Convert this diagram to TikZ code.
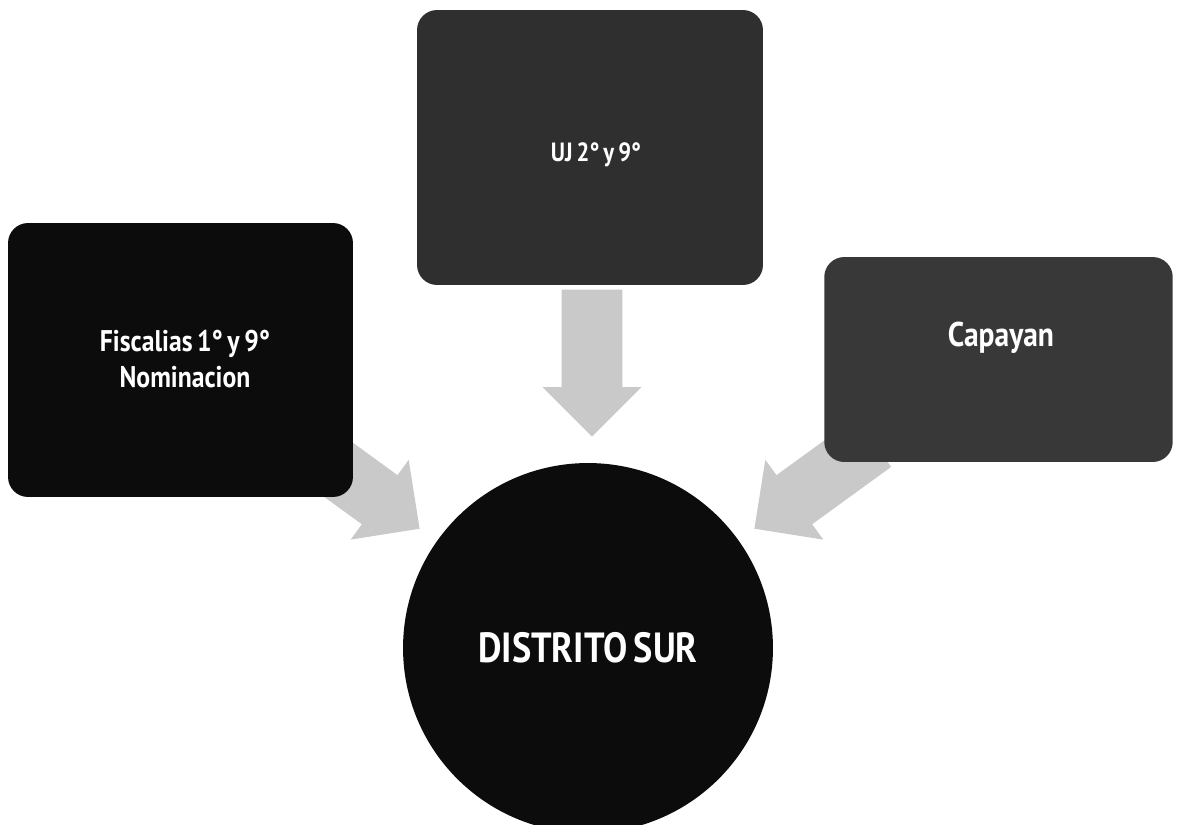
\documentclass[tikz,border=0pt]{standalone}
\usepackage{fontspec}
\newfontfamily\dinfont[FakeStretch=0.86, WordSpace=0.7]{PT Sans}
\usetikzlibrary{shapes.arrows}
\definecolor{arrowgray}{HTML}{C9C9C9}
\definecolor{boxdark}{HTML}{0C0C0C}
\definecolor{boxmid}{HTML}{2F2F2F}
\definecolor{boxlight}{HTML}{383838}

\begin{document}
\begin{tikzpicture}[x=0.02cm, y=-0.02cm,
  box/.style={rectangle, rounded corners=0.4cm, inner sep=0pt, text=white, align=center, font=\dinfont\bfseries},
  flow/.style={single arrow, fill=arrowgray, draw=none, inner xsep=0pt, inner ysep=0.6cm,
    single arrow head extend=0.38cm, minimum height=2.94cm, anchor=tip}]
% Fix the page size
\useasboundingbox (0,0) rectangle (1178,825);

% Draw the arrows first, the boxes cover their tails
\node (arrowTop) at (592,437) [flow, rotate=-90]{};
\node (arrowLeft) at (420,529) [flow, rotate=-36]{};
\node (arrowRight) at (754,529) [flow, rotate=-144]{};

% Draw the three boxes
\node (fiscalias) at (180.5,360) [box, fill=boxdark, minimum width=6.9cm, minimum height=5.48cm]{};
\node at (185,359) [text=white, align=center, font=\dinfont\bfseries\fontsize{17}{20}\selectfont]{Fiscalias 1° y 9°\\Nominacion};
\node (uj) at (590,147.5) [box, fill=boxmid, minimum width=6.92cm, minimum height=5.5cm]{};
\node at (596,155) [text=white, font=\dinfont\bfseries\fontsize{15}{18}\selectfont]{UJ 2° y 9°};
\node (capayan) at (998.5,359.5) [box, fill=boxlight, minimum width=6.97cm, minimum height=4.1cm]{};
\node at (1001,338) [text=white, font=\dinfont\bfseries\fontsize{19.5}{23}\selectfont]{Capayan};

% Draw the district circle
\node (distrito) at (588,648) [circle, fill=boxdark, minimum size=7.4cm, inner sep=0pt, text=white, font=\dinfont\bfseries\fontsize{24}{29}\selectfont]{DISTRITO SUR};
\end{tikzpicture}
\end{document}
